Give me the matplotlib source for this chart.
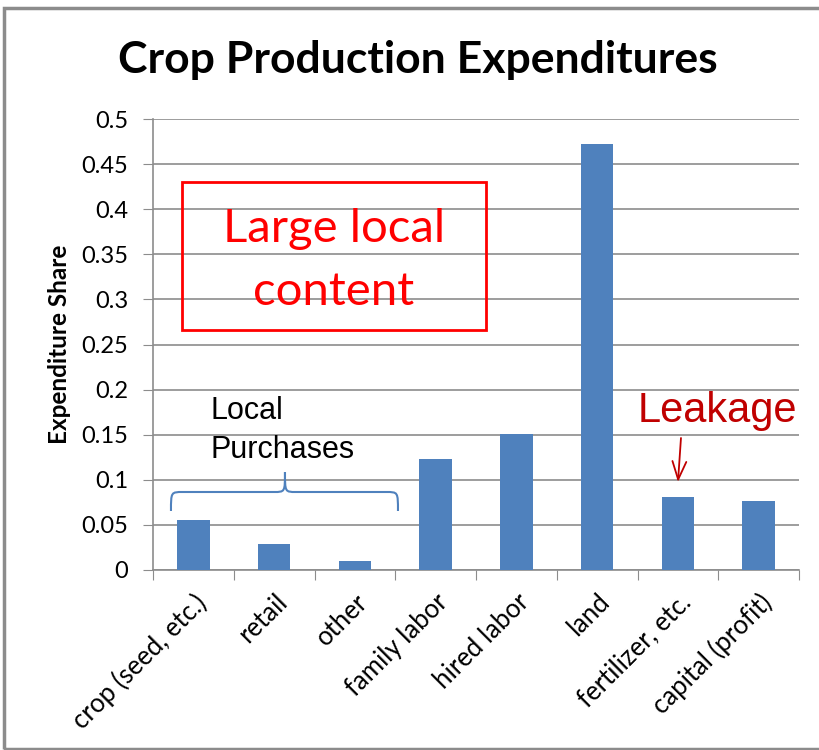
import matplotlib
matplotlib.use("Agg")
import matplotlib.pyplot as plt
from matplotlib.patches import Rectangle, PathPatch
from matplotlib.path import Path

categories = ["crop (seed, etc.)", "retail", "other", "family labor",
              "hired labor", "land", "fertilizer, etc.", "capital (profit)"]
shares = [0.0554, 0.0285, 0.0100, 0.1227, 0.1505, 0.4720, 0.0813, 0.0768]
y_ticks = [0, 0.05, 0.1, 0.15, 0.2, 0.25, 0.3, 0.35, 0.4, 0.45, 0.5]
y_tick_labels = ["0", "0.05", "0.1", "0.15", "0.2", "0.25", "0.3", "0.35",
                 "0.4", "0.45", "0.5"]

W, H = 819, 750
fig = plt.figure(figsize=(W / 100, H / 100), dpi=100)
plt.rcParams['font.family'] = ['Lato', 'DejaVu Sans']


def fx(px):
    return px / W


def fy(py):
    return 1 - py / H


ax = fig.add_axes([fx(153), fy(570), fx(799) - fx(153), fy(119) - fy(570)])

x = list(range(len(categories)))
ax.bar(x, shares, width=0.4, color="#4F81BD", zorder=3)

ax.set_xlim(-0.5, len(categories) - 0.5)
ax.set_ylim(0, 0.5)
ax.set_yticks(y_ticks)
ax.set_yticklabels(y_tick_labels, fontsize=17)
ax.yaxis.grid(True, color="#8C8C8C", linewidth=1.2, zorder=0)
ax.tick_params(axis='y', length=7, color="#8C8C8C", pad=11)

# category ticks sit between the bars
ax.set_xticks([i - 0.5 for i in range(len(categories) + 1)], minor=False)
ax.set_xticklabels([])
ax.set_xticks(x, minor=True)
ax.set_xticklabels(categories, minor=True, rotation=45, ha='right',
                   rotation_mode='anchor', fontsize=18.5)
ax.tick_params(axis='x', which='major', length=7, color="#8C8C8C")
ax.tick_params(axis='x', which='minor', length=0, pad=14)

for side in ['top', 'right']:
    ax.spines[side].set_visible(False)
for side in ['left', 'bottom']:
    ax.spines[side].set_color("#8C8C8C")
    ax.spines[side].set_linewidth(1.2)

ax.set_ylabel("Expenditure Share", fontsize=17.5, fontweight='bold', labelpad=7)

fig.text(fx(418), fy(60), "Crop Production Expenditures", fontsize=32,
         fontweight='bold', ha='center', va='center')

# red box with text
box = Rectangle((fx(182), fy(330)), fx(486) - fx(182), fy(182) - fy(330),
                transform=fig.transFigure, fill=False, edgecolor="#FF0000",
                linewidth=2)
fig.patches.append(box)
fig.text(fx(334), fy(242), "Large local", fontsize=34, color="#FF0000",
         ha='center', va='baseline')
fig.text(fx(334), fy(305), "content", fontsize=34, color="#FF0000",
         ha='center', va='baseline')

# local purchases label and brace (data coordinates)
def dx(px):
    return (px - 193.4) / 80.75


def dy(py):
    return (570 - py) / 902


ax.text(dx(211), dy(419), "Local", fontsize=22, family=['Liberation Sans'],
        va='baseline')
ax.text(dx(211), dy(458), "Purchases", fontsize=22, family=['Liberation Sans'],
        va='baseline')

verts = [
    (dx(171), dy(511)),
    (dx(171), dy(492)), (dx(171), dy(492)), (dx(183), dy(492)),
    (dx(274), dy(492)),
    (dx(285), dy(492)), (dx(285), dy(492)), (dx(285), dy(472)),
    (dx(285), dy(492)), (dx(285), dy(492)), (dx(296), dy(492)),
    (dx(386), dy(492)),
    (dx(398), dy(492)), (dx(398), dy(492)), (dx(398), dy(511)),
]
codes = ([Path.MOVETO] + [Path.CURVE4] * 3 + [Path.LINETO] + [Path.CURVE4] * 6
         + [Path.LINETO] + [Path.CURVE4] * 3)
ax.add_patch(PathPatch(Path(verts, codes), fill=False, edgecolor="#4F81BD",
                       linewidth=1.5, zorder=4))

# leakage
ax.text(dx(638), dy(422), "Leakage", fontsize=30, color="#C00000",
        family=['Liberation Sans'], va='baseline')
ax.annotate("", xy=(dx(678), dy(482)), xytext=(dx(681), dy(438)),
            arrowprops=dict(arrowstyle="->,head_length=1.3,head_width=0.5",
                            color="#C00000", lw=1.3, shrinkA=0, shrinkB=0))

# outer frame
frame = Rectangle((fx(4), fy(749)), fx(840) - fx(4), fy(8) - fy(749),
                  transform=fig.transFigure, fill=False, edgecolor="#8C8C8C",
                  linewidth=2.5)
fig.patches.append(frame)

fig.savefig("out.png", dpi=100)
